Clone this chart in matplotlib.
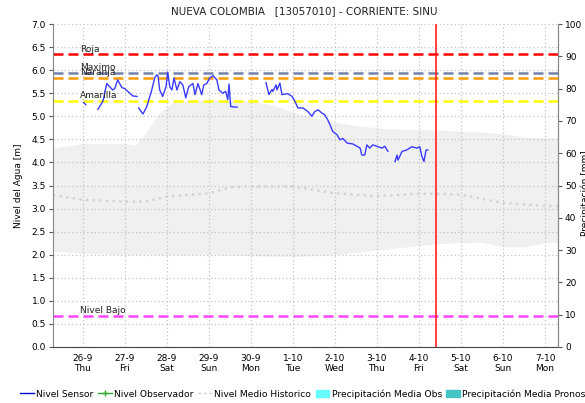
import matplotlib
matplotlib.use('Agg')
import matplotlib.pyplot as plt
from matplotlib.lines import Line2D
from matplotlib.patches import Patch

# time in days since 25-9 00:00
day_ticks = [1, 2, 3, 4, 5, 6, 7, 8, 9, 10, 11, 12]
day_labels = ['26-9\nThu', '27-9\nFri', '28-9\nSat', '29-9\nSun', '30-9\nMon', '1-10\nTue',
              '2-10\nWed', '3-10\nThu', '4-10\nFri', '5-10\nSat', '6-10\nSun', '7-10\nMon']

# sensor level, split in segments where data is missing
sensor_segments = [
    ([1.02, 1.07], [5.30, 5.25]),
    ([1.36, 1.48, 1.57, 1.71, 1.76, 1.83, 1.93, 2.00, 2.07, 2.19, 2.29],
     [5.15, 5.33, 5.71, 5.57, 5.60, 5.79, 5.62, 5.60, 5.54, 5.44, 5.43]),
    ([2.33, 2.43, 2.52, 2.64, 2.71, 2.76, 2.79, 2.83, 2.90, 2.98, 3.02, 3.07, 3.12, 3.17,
      3.24, 3.31, 3.38, 3.45, 3.52, 3.62, 3.67, 3.74, 3.83, 3.88, 3.95, 4.02, 4.10, 4.19,
      4.24, 4.33, 4.40, 4.45, 4.48, 4.52, 4.62, 4.67],
     [5.18, 5.05, 5.20, 5.57, 5.83, 5.90, 5.87, 5.57, 5.43, 5.64, 5.96, 5.64, 5.57, 5.83,
      5.57, 5.75, 5.68, 5.40, 5.64, 5.71, 5.47, 5.71, 5.47, 5.68, 5.71, 5.83, 5.88, 5.79,
      5.57, 5.50, 5.54, 5.36, 5.70, 5.21, 5.20, 5.20]),
    ([5.36, 5.43, 5.50, 5.52, 5.60, 5.62, 5.69, 5.74, 5.88, 5.98, 6.05, 6.12, 6.24, 6.36,
      6.45, 6.52, 6.60, 6.69, 6.76, 6.83, 6.88, 6.95, 7.05, 7.12, 7.19, 7.29, 7.43, 7.60,
      7.64, 7.71, 7.76, 7.83, 7.90, 8.00, 8.12, 8.19, 8.26],
     [5.73, 5.47, 5.58, 5.54, 5.68, 5.57, 5.72, 5.47, 5.49, 5.43, 5.32, 5.18, 5.18, 5.10,
      5.00, 5.10, 5.14, 5.07, 5.03, 4.92, 4.82, 4.67, 4.60, 4.49, 4.52, 4.42, 4.40, 4.31,
      4.16, 4.16, 4.38, 4.31, 4.38, 4.35, 4.31, 4.35, 4.24]),
    ([8.43, 8.48, 8.50, 8.60, 8.71, 8.83, 8.95, 9.02, 9.07, 9.12, 9.17, 9.21],
     [4.02, 4.16, 4.05, 4.24, 4.27, 4.34, 4.31, 4.34, 4.13, 4.02, 4.27, 4.27]),
]

# historical band and mean
band_t = [0.29, 1.0, 2.0, 2.26, 2.5, 2.8, 3.15, 3.6, 4.0, 4.5, 5.0, 5.5, 6.0, 6.5,
          7.0, 7.5, 8.0, 8.5, 9.0, 9.5, 10.0, 10.5, 11.0, 11.5, 12.0, 12.31]
band_hi = [4.31, 4.41, 4.41, 4.37, 4.65, 5.05, 5.30, 5.35, 5.35, 5.35, 5.33, 5.25, 5.10, 4.97,
           4.87, 4.80, 4.75, 4.72, 4.71, 4.70, 4.68, 4.66, 4.62, 4.55, 4.53, 4.53]
band_lo = [2.08, 2.03, 2.00, 2.00, 2.00, 2.00, 2.00, 2.00, 2.00, 1.99, 1.98, 1.97, 1.96, 1.98,
           2.00, 2.05, 2.10, 2.15, 2.20, 2.24, 2.26, 2.27, 2.17, 2.17, 2.26, 2.27]
hist_t = [0.29, 1.0, 2.0, 2.5, 3.0, 4.0, 4.5, 5.0, 6.0, 7.0, 8.0, 9.0, 9.5, 10.0, 10.9, 11.0, 12.0, 12.31]
hist_mean = [3.29, 3.19, 3.15, 3.15, 3.26, 3.33, 3.46, 3.48, 3.48, 3.33, 3.27, 3.32, 3.32, 3.30,
             3.14, 3.12, 3.06, 3.05]

# alert levels
levels = {'Roja': 6.34, 'Maximo': 5.93, 'Naranja': 5.83, 'Amarilla': 5.34, 'Nivel Bajo': 0.68}
level_colors = {'Roja': '#ff0000', 'Maximo': '#7482a8', 'Naranja': '#ff9a00',
                'Amarilla': '#ffff00', 'Nivel Bajo': '#ff44ff'}
now_t = 9.40

fig = plt.figure(figsize=(5.85, 4.03), dpi=100)
ax = fig.add_axes([53 / 585, 56 / 403, 505 / 585, 323 / 403])

ax.fill_between(band_t, band_lo, band_hi, color='#f0f0f0', lw=0, zorder=0)
ax.plot(hist_t, hist_mean, color='#cfcfcf', ls=(0, (1, 2)), lw=1.6, zorder=1)

for name, val in levels.items():
    ax.axhline(val, color=level_colors[name], ls=(0, (4, 2)), lw=1.8, zorder=2)
    ax.text(0.93, val + 0.02, name, fontsize=6.5, va='bottom', ha='left', color='#222222', zorder=5)

for t, v in sensor_segments:
    ax.plot(t, v, color='#3a3aff', lw=1.0, zorder=4)

ax.axvline(now_t, color='#ff2020', lw=1.2, zorder=3)

ax.set_xlim(0.29, 12.31)
ax.set_ylim(0, 7)
ax.set_yticks([i * 0.5 for i in range(15)])
ax.set_yticklabels(['%.1f' % (i * 0.5) for i in range(15)])
ax.set_xticks(day_ticks)
ax.set_xticklabels(day_labels)
ax.grid(True, color='#c4c4c4', ls=(0, (1, 2)), lw=0.9)
ax.set_axisbelow(True)
ax.tick_params(labelsize=6.5, length=3, color='#555555', pad=2)
ax.tick_params(axis='x', length=0, pad=5)
ax.spines['top'].set_visible(False)
ax.spines['left'].set_color('#888888')
ax.spines['right'].set_color('#888888')
ax.spines['bottom'].set_color('#444444')
ax.spines['bottom'].set_linestyle((0, (1, 1)))
ax.set_ylabel('Nivel del Agua [m]', fontsize=6.5, labelpad=6)

ax2 = ax.twinx()
ax2.set_ylim(0, 100)
ax2.set_yticks(range(0, 101, 10))
ax2.tick_params(labelsize=6.5, length=3, color='#555555', pad=2)
for s in ['top', 'left', 'bottom']:
    ax2.spines[s].set_visible(False)
ax2.spines['right'].set_color('#888888')
# right axis title, mostly outside the figure as in the original
fig.text(580 / 585, 0.52, 'Precipitación [mm]', rotation=90, fontsize=6.5,
         ha='left', va='center')

fig.text(0.52, 0.972, 'NUEVA COLOMBIA   [13057010] - CORRIENTE: SINU', fontsize=7.5,
         ha='center', va='center', color='#222222')

handles = [
    Line2D([], [], color='#0000cc', lw=1.0),
    Line2D([], [], color='#33aa33', lw=1.0, marker='+', markersize=4),
    Line2D([], [], color='#d0d0d0', lw=1.0, ls=(0, (2, 2))),
    Patch(color='#66ffff'),
    Patch(color='#44c4c4'),
]
names = ['Nivel Sensor', 'Nivel Observador', 'Nivel Medio Historico',
         'Precipitación Media Obs', 'Precipitación Media Pronosticada']
fig.legend(handles, names, loc='lower left', bbox_to_anchor=(0.02, -0.01), ncol=5,
           frameon=False, fontsize=6.6, handlelength=1.5, handletextpad=0.25,
           columnspacing=0.5, handleheight=0.9)

fig.savefig('out.png', dpi=100)
